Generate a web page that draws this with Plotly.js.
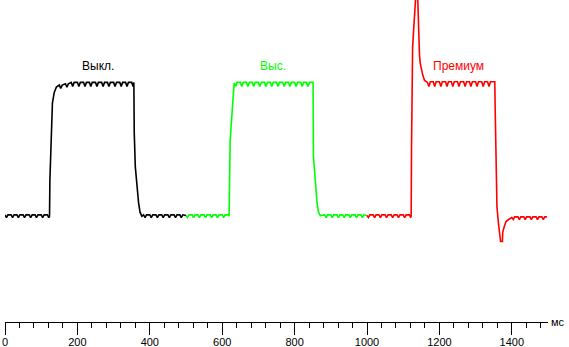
<!DOCTYPE html>
<html>
<head>
<meta charset="utf-8">
<script src="https://cdn.plot.ly/plotly-3.0.1.min.js"></script>
<style>html,body{margin:0;padding:0;background:#fff;}#chart{width:569px;height:347px;}</style>
</head>
<body>
<div id="chart"></div>
<script>
// Time (ms) and brightness values (relative units) for each mode
var offTime = [0,4,8, 17,21,25, 33,37,41, 50,54,58, 67,71,75, 83,87,91, 100,104,108, 117,121,
  123,124,127,131,136,142,
  150,154,158, 167,171,175, 183,187,191, 200,204,208, 217,221,225, 233,237,241, 250,254,258,
  267,271,275, 283,287,291, 300,304,308, 317,321,325, 333,337,341, 350,354,356,
  357,360,364,369,373,378,
  383,387,391, 400,404,408, 417,421,425, 433,437,441, 450,454,458, 467,471,475, 483,487,491, 500];
var offVal = [1,-1,1, 1,-1,1, 1,-1,1, 1,-1,1, 1,-1,1, 1,-1,1, 1,-1,1, 1,-1,
  0,27,60,85,93,97,
  98.5,96,98.5, 99.5,97,99.5, 100.5,97.5,100.5, 100.5,97.5,100.5, 100.5,97.5,100.5, 100.5,97.5,100.5, 100.5,97.5,100.5,
  100.5,97.5,100.5, 100.5,97.5,100.5, 100.5,97.5,100.5, 100.5,97.5,100.5, 100.5,97.5,100.5, 100.5,97.5,100.5,
  63,37,22,10,3,0,
  1,-1,1, 1,-1,1, 1,-1,1, 1,-1,1, 1,-1,1, 1,-1,1, 1,-1,1, 0.5];

var highTime = [500,504,508, 517,521,525, 533,537,541, 550,554,558, 567,571,575, 583,587,591, 600,604,608, 617,
  619,620,622,627,630,633,
  637,641, 650,654,658, 667,671,675, 683,687,691, 700,704,708, 717,721,725, 733,737,741, 750,754,758,
  767,771,775, 783,787,791, 800,804,808, 817,821,825, 833,837,841, 850,851,
  852,858,862,866,871,
  883,887,891, 900,904,908, 917,921,925, 933,937,941, 950,954,958, 967,971,975, 983,987,991, 1000];
var highVal = [0.5,-1,1, 1,-1,1, 1,-1,1, 1,-1,1, 1,-1,1, 1,-1,1, 1,-1,1, 1,
  0,22,57,77,92,100,
  97.5,100.5, 100.5,97.5,100.5, 100.5,97.5,100.5, 100.5,97.5,100.5, 100.5,97.5,100.5, 100.5,97.5,100.5, 100.5,97.5,100.5, 100.5,97.5,100.5,
  100.5,97.5,100.5, 100.5,97.5,100.5, 100.5,97.5,100.5, 100.5,97.5,100.5, 100.5,97.5,100.5, 100.5,100.5,
  45,20,10,3,0.5,
  1,-1,1, 1,-1,1, 1,-1,1, 1,-1,1, 1,-1,1, 1,-1,1, 1,-1,1, 0.5];

var premTime = [1000,1004,1008, 1017,1021,1025, 1033,1037,1041, 1050,1054,1058, 1067,1071,1075, 1083,1087,1091, 1100,1104,1108, 1117,1121,
  1122,1123,1126,1130,1133,1137,1140,1142,1145,1147,1150,1154,1159,
  1167,1171,1175, 1183,1187,1191, 1200,1204,1208, 1217,1221,1225, 1233,1237,1241, 1250,1254,1258,
  1267,1271,1275, 1283,1287,1291, 1300,1304,1308, 1317,1321,1325, 1333,1337,1341, 1350,1353,
  1354,1357,1359,1363,1366,1369,1374,1375,1379,1384,1391,1400,
  1404,1408, 1417,1421,1425, 1433,1437,1441, 1450,1454,1458, 1467,1471,1475, 1483,1487,1491, 1497];
var premVal = [0.5,-1,1, 1,-1,1, 1,-1,1, 1,-1,1, 1,-1,1, 1,-1,1, 1,-1,1, 1,-1,
  0,52,127,145,165,175,165,137,121,115,110,106,102,
  100.5,97.5,101, 101,97.5,101, 101,97.5,101, 101,97.5,101, 101,97.5,101, 101,97.5,101,
  101,97.5,101, 101,97.5,101, 101,97.5,101, 101,97.5,101, 101,97.5,101, 101,101,
  82,32,7,-5,-13,-19,-19,-12,-8,-4,-2.5,-1,
  -2.5,-0.5, -0.5,-2.5,-0.5, -0.5,-2.5,-0.5, -0.5,-2.5,-0.5, -0.5,-2.5,-0.5, -0.5,-2.5,-0.5, -0.5];

var seriesNames = ["Выкл.", "Выс.", "Премиум"];
var seriesColors = ["#000000", "#00ff00", "#ff0000"];
var labelTimes = [256, 741, 1252];
var labelVals = [113, 113, 113];

var traces = [
  {x: offTime, y: offVal, name: seriesNames[0]},
  {x: highTime, y: highVal, name: seriesNames[1]},
  {x: premTime, y: premVal, name: seriesNames[2]}
].map(function (t, i) {
  t.type = 'scatter';
  t.mode = 'lines';
  t.line = {color: seriesColors[i], width: 1.6};
  t.hoverinfo = 'skip';
  return t;
});

var annotations = seriesNames.map(function (n, i) {
  return {x: labelTimes[i], y: labelVals[i], xref: 'x', yref: 'y', text: n, showarrow: false,
    font: {family: 'Arial, Liberation Sans, sans-serif', size: 12, color: seriesColors[i]},
    xanchor: 'center', yanchor: 'middle'};
});
annotations.push({x: 1.019, y: 0, xref: 'paper', yref: 'paper', text: 'мс', showarrow: false,
  font: {family: 'Arial, Liberation Sans, sans-serif', size: 11, color: '#000'},
  xanchor: 'center', yanchor: 'middle'});

var layout = {
  width: 569, height: 347,
  margin: {l: 5, r: 21, t: 0, b: 25, pad: 0},
  paper_bgcolor: '#fff', plot_bgcolor: '#fff',
  showlegend: false,
  xaxis: {
    range: [0, 1500], showline: true, linecolor: '#000', linewidth: 1,
    ticks: 'outside', ticklen: 12, tickcolor: '#000', tickwidth: 1,
    tick0: 0, dtick: 200, showgrid: false, zeroline: false, ticklabelstandoff: -2,
    tickfont: {family: 'Arial, Liberation Sans, sans-serif', size: 11, color: '#000'},
    minor: {dtick: 40, ticks: 'outside', ticklen: 5, tickcolor: '#000', tickwidth: 1, showgrid: false}
  },
  yaxis: {range: [-79.5, 162.4], visible: false, showgrid: false, zeroline: false},
  annotations: annotations
};

Plotly.newPlot('chart', traces, layout, {displayModeBar: false, staticPlot: true});
</script>
</body>
</html>
